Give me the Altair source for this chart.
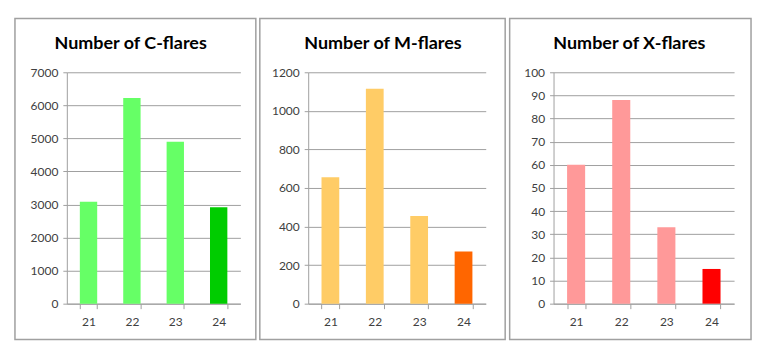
import altair as alt
import pandas as pd

cycles = ["21", "22", "23", "24"]
c_flares = [3080, 6220, 4900, 2920]
m_flares = [655, 1115, 455, 270]
x_flares = [60, 88, 33, 15]

titles = ["Number of C-flares", "Number of M-flares", "Number of X-flares"]
y_max = [7000, 1200, 100]
y_step = [1000, 200, 10]
light = ["#66FF66", "#FFCC66", "#FF9999"]
dark = ["#00CC00", "#FF6600", "#FF0000"]

FONT = "Lato"
GRID = "#A0A0A0"
BORDER = "#A0A0A0"


def panel(values, title, ymax, ystep, c_light, c_dark, w, h, dx, bx1, bx2, extent):
    df = pd.DataFrame({"cycle": cycles, "count": values})
    base = alt.Chart(df)
    bars = base.mark_bar().encode(
        x=alt.X(
            "cycle:N",
            sort=cycles,
            title=None,
            scale=alt.Scale(paddingInner=0.6, paddingOuter=0.3),
            axis=alt.Axis(
                labelAngle=0,
                labelFont=FONT,
                labelFontSize=12,
                labelColor="#404040",
                labelPadding=8,
                domainColor=GRID,
                tickColor=GRID,
                tickSize=5,
                tickBand="extent",
                grid=False,
            ),
        ),
        y=alt.Y(
            "count:Q",
            title=None,
            scale=alt.Scale(domain=[0, ymax], nice=False),
            axis=alt.Axis(
                values=list(range(0, ymax + 1, ystep)),
                format="d",
                labelFont=FONT,
                labelFontSize=12,
                labelColor="#404040",
                labelPadding=5,
                domainColor=GRID,
                tickColor=GRID,
                tickSize=4,
                gridColor=GRID,
                minExtent=extent,
                maxExtent=extent,
            ),
        ),
        color=alt.condition(
            alt.datum.cycle == cycles[-1], alt.value(c_dark), alt.value(c_light)
        ),
    )
    one = alt.Chart(pd.DataFrame({"a": [0]}))
    border = one.mark_rect(
        fill=None, stroke=BORDER, strokeWidth=1.5
    ).encode(
        x=alt.value(bx1),
        x2=alt.value(w + bx2),
        y=alt.value(-54),
        y2=alt.value(h + 36),
    )
    head = one.mark_text(
        font=FONT, fontSize=18, fontWeight="bold", color="black",
        align="center", baseline="middle",
    ).encode(
        text=alt.value(title),
        x=alt.value(w / 2 + dx),
        y=alt.value(-28),
    )
    return alt.layer(border, bars, head).properties(width=w, height=h)


H = 232
p1 = panel(c_flares, titles[0], y_max[0], y_step[0], light[0], dark[0], 174, H, -23, -52, 15.5, 40)
p2 = panel(m_flares, titles[1], y_max[1], y_step[1], light[1], dark[1], 178, H, -14, -48.5, 19.5, 40)
p3 = panel(x_flares, titles[2], y_max[2], y_step[2], light[2], dark[2], 181, H, -14.5, -44, 17, 40)

chart = alt.hconcat(p1, p2, p3, spacing=68, bounds="flush").properties(
    padding={"left": 14, "top": 17, "right": 10, "bottom": 12},
    background="white",
).configure_view(stroke=None)

chart.save("out.html", embed_options={"renderer": "svg", "actions": False})
